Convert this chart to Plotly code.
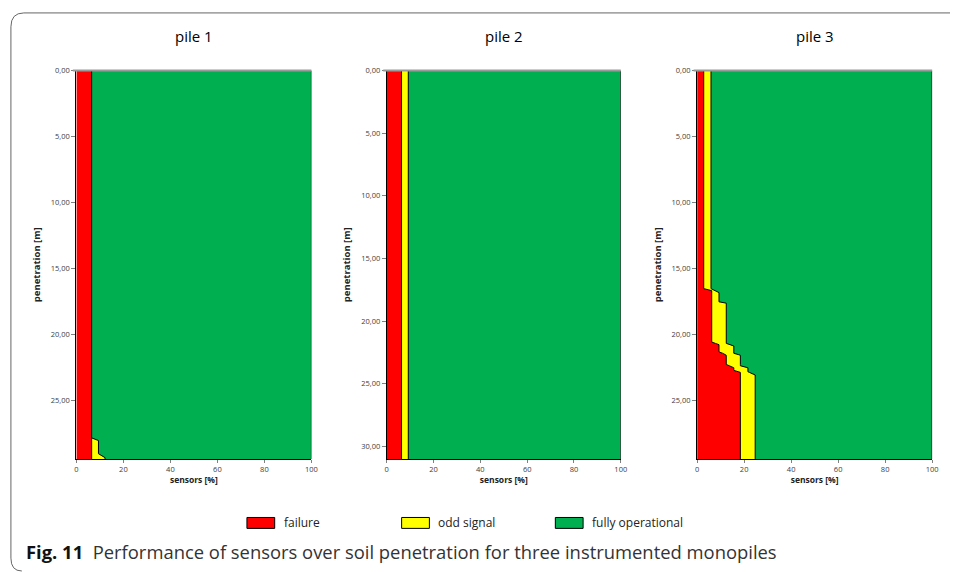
import plotly.graph_objects as go

# ---------------- data ----------------
categories = ["failure", "odd signal", "fully operational"]
pile_titles = ["pile 1", "pile 2", "pile 3"]

pile1_depth = [0.0, 27.87, 28.07, 29.07, 29.37, 29.47]
pile1_failure = [6.5, 6.5, 6.5, 6.5, 6.5, 6.5]
pile1_odd = [0.0, 0.0, 2.9, 2.9, 5.7, 5.7]

pile2_depth = [0.0, 31.0]
pile2_failure = [6.3, 6.3]
pile2_odd = [2.9, 2.9]

pile3_depth = [0.0, 16.55, 16.70, 16.85, 17.55, 17.65, 20.60, 20.70, 20.80, 20.90,
               21.35, 21.45, 21.55, 21.60, 22.30, 22.40, 22.55, 22.75, 22.85, 22.90,
               23.10, 29.47]
pile3_failure = [2.8, 2.8, 6.2, 6.2, 6.2, 6.2, 6.2, 7.75, 9.3, 9.3,
                 9.3, 10.85, 12.4, 12.4, 12.4, 13.7, 15.6, 15.6, 17.5, 18.4,
                 18.4, 18.4]
pile3_odd = [3.1, 3.1, 1.4, 3.1, 3.1, 6.2, 6.2, 4.65, 4.7, 6.3,
             6.3, 4.75, 5.1, 6.0, 6.0, 4.7, 6.0, 6.0, 4.1, 3.8,
             6.3, 6.3]

x_ticks = [0, 20, 40, 60, 80, 100]
y_ticks = [0, 5, 10, 15, 20, 25, 30]

piles = [
    (pile1_depth, pile1_failure, pile1_odd),
    (pile2_depth, pile2_failure, pile2_odd),
    (pile3_depth, pile3_failure, pile3_odd),
]

colors = ["#FF0000", "#FFFF00", "#00B050"]

W, H = 956, 572
x_domains = [(75 / W, 312 / W), (388 / W, 624 / W), (701 / W, 938 / W)]
y_domain = (1 - 458 / H, 1 - 66 / H)

fig = go.Figure()

for i, (depth, fail, odd) in enumerate(piles):
    ok = [100 - f - o for f, o in zip(fail, odd)]
    series = [fail, odd, ok]
    xa = "x" if i == 0 else f"x{i+1}"
    ya = "y" if i == 0 else f"y{i+1}"
    for j, vals in enumerate(series):
        fig.add_trace(go.Scatter(
            x=vals, y=depth, xaxis=xa, yaxis=ya,
            mode="lines", stackgroup=f"s{i}", orientation="h",
            line=dict(color="black", width=1),
            fillcolor=colors[j], name=categories[j],
            showlegend=False, hoverinfo="skip",
        ))

FONT = "Open Sans, sans-serif"
tickfont = dict(family=FONT, size=7.5, color="#404040")
titlefont = dict(family=FONT, size=9.5, color="#222222", weight="bold")

layout = dict(
    width=W, height=H,
    margin=dict(l=0, r=0, t=0, b=0),
    paper_bgcolor="white", plot_bgcolor="white",
    separators=", ",
    showlegend=False,
)

for i, depth in enumerate([pile1_depth, pile2_depth, pile3_depth]):
    sx = "" if i == 0 else str(i + 1)
    layout[f"xaxis{sx}"] = dict(
        domain=list(x_domains[i]), anchor=f"y{sx}", range=[0, 100],
        tickvals=x_ticks, ticks="outside", ticklen=3, tickcolor="#808080",
        showgrid=False, zeroline=False, showline=True, linecolor="black",
        tickfont=tickfont,
        title=dict(text="sensors [%]", font=dict(family=FONT, size=8.5,
                                                 color="#222222", weight="bold"),
                   standoff=3),
    )
    layout[f"yaxis{sx}"] = dict(
        domain=list(y_domain), anchor=f"x{sx}", range=[depth[-1], 0],
        tickvals=y_ticks, tickformat=".2f", ticks="outside", ticklen=4,
        tickcolor="#808080", showgrid=False, zeroline=False, showline=True,
        linecolor="black", tickfont=tickfont,
        title=dict(text="penetration [m]", font=titlefont, standoff=8),
    )

fig.update_layout(**layout)

# pile titles
centers = [(a + b) / 2 for a, b in x_domains]
for c, t in zip(centers, pile_titles):
    fig.add_annotation(x=c, y=1 - 31 / H, xref="paper", yref="paper",
                       xanchor="center", yanchor="middle",
                       text=t, showarrow=False,
                       font=dict(family=FONT, size=15, color="black"))

# legend (boxes + labels)
legend_box_x = [247, 403, 558]
for k, name in enumerate(categories):
    x0 = legend_box_x[k]
    fig.add_shape(type="rect", xref="paper", yref="paper",
                  x0=x0 / W, x1=(x0 + 28) / W, y0=1 - 528 / H, y1=1 - 517 / H,
                  fillcolor=colors[k], line=dict(color="black", width=1))
    fig.add_annotation(x=(x0 + 35) / W, y=1 - 522.5 / H, xref="paper", yref="paper",
                       xanchor="left", yanchor="middle", text=name, showarrow=False,
                       font=dict(family=FONT, size=12, color="#222222"))

# caption
fig.add_annotation(
    x=22 / W, y=1 - 551 / H, xref="paper", yref="paper",
    xanchor="left", yanchor="middle",
    text="<b style='color:#111111'>Fig. 11</b>  Performance of sensors over soil penetration for three instrumented monopiles",
    showarrow=False,
    font=dict(family=FONT, size=18.4, color="#333333"))

# gray top lines at depth 0
for i in range(3):
    sx = "" if i == 0 else str(i + 1)
    fig.add_shape(type="line", xref=f"x{sx} domain", yref=f"y{sx} domain",
                  x0=-0.015, x1=1, y0=1, y1=1,
                  line=dict(color="#9a9a9a", width=2))

def px(x, y):
    return f"{x / W:.5f},{1 - y / H:.5f}"

frame = (f"M {px(956, 8)} L {px(22, 8)} Q {px(9, 8)} {px(9, 22)} "
         f"L {px(9, 558)} Q {px(9, 571)} {px(20, 571)}")
fig.add_shape(type="path", xref="paper", yref="paper", path=frame,
              line=dict(color="#666666", width=1))

fig.write_html("out.html",
               config={"displayModeBar": False},
               post_script="document.body.style.margin='0';document.body.style.overflow='hidden';")
